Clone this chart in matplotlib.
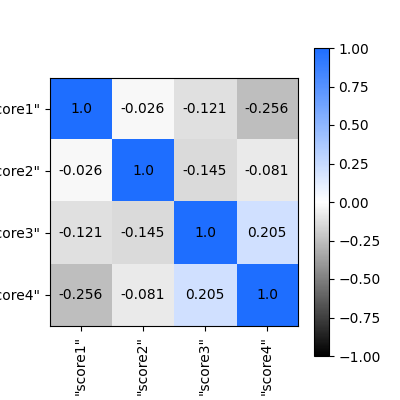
import numpy as np
import matplotlib
matplotlib.use("Agg")
import matplotlib.pyplot as plt
from matplotlib.colors import LinearSegmentedColormap

labels = ['"score1"', '"score2"', '"score3"', '"score4"']
corr = np.array([
    [1.0, -0.026, -0.121, -0.256],
    [-0.026, 1.0, -0.145, -0.081],
    [-0.121, -0.145, 1.0, 0.205],
    [-0.256, -0.081, 0.205, 1.0],
])

cmap = LinearSegmentedColormap.from_list("bwb", ["#000000", "#ffffff", "#1e6eff"])

fig = plt.figure(figsize=(4, 4), dpi=100)
im = plt.imshow(corr, cmap=cmap, vmin=-1, vmax=1)
plt.colorbar(im)
plt.xticks(range(len(labels)), labels, rotation=90)
plt.yticks(range(len(labels)), labels)
for i in range(len(labels)):
    for j in range(len(labels)):
        v = corr[i, j]
        txt = "1.0" if v == 1.0 else f"{v:.3f}".rstrip("0") if False else ("1.0" if v == 1.0 else f"{v:g}")
        plt.text(j, i, txt, ha="center", va="center", color="black")
plt.savefig("out.png")
